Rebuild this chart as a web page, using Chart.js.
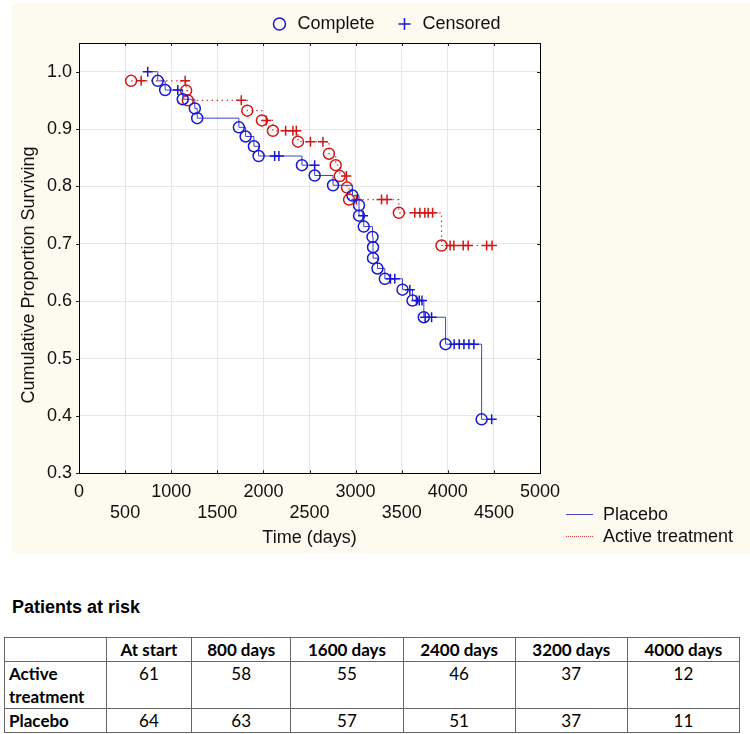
<!DOCTYPE html>
<html>
<head>
<meta charset="utf-8">
<script src="https://cdn.jsdelivr.net/npm/chart.js@4.4.1/dist/chart.umd.min.js"></script>
<style>
  html, body { margin:0; padding:0; background:#fff; }
  body { width:750px; height:734px; position:relative; overflow:hidden; font-family:'Liberation Sans', Arial, sans-serif; }
  #panel { position:absolute; left:12px; top:3px; width:738px; height:550px; background:#fdfbf0; }
  #c { position:absolute; left:0; top:0; }
  #ytitle { position:absolute; left:-184px; top:261px; width:400px; height:22px; line-height:22px; text-align:center; font-size:18px; color:#111; transform:rotate(-90deg); }
  .lg { position:absolute; left:554px; height:22px; line-height:22px; font-size:18px; color:#111; white-space:nowrap; }
  .lg .sw { display:inline-block; width:27px; height:0; vertical-align:middle; margin-right:10px; position:relative; top:-1px; }
  #riskTitle { position:absolute; left:12px; top:597px; font-size:18px; font-weight:bold; color:#000; }
  #risk { position:absolute; left:4px; top:637px; width:736px; border-collapse:collapse; font-family:Lato, 'Noto Sans', sans-serif; font-size:17px; color:#000; }
  #risk td, #risk th { border:1px solid #666; padding:0 4px; line-height:23px; vertical-align:top; }
  #risk th { font-weight:bold; text-align:center; }
  #risk td { text-align:center; }
  #risk td.rowh { text-align:left; font-weight:bold; width:93px; }
</style>
</head>
<body>
<div id="panel">
  <canvas id="c" width="738" height="550"></canvas>
  <div id="ytitle">Cumulative Proportion Surviving</div>
  <div class="lg" style="top:500px;"><span class="sw" style="border-top:1px solid #4848c8;"></span>Placebo</div>
  <div class="lg" style="top:522px;"><span class="sw" style="border-top:1px dotted #d04040;"></span>Active treatment</div>
</div>
<div id="riskTitle">Patients at risk</div>
<table id="risk"></table>
<script>
// ---- data ----
const placeboDays  = [745, 854, 934, 1071, 1125, 1256, 1282, 1734, 1807, 1897, 1948, 2122, 2168, 2418, 2556, 2556, 2755, 2966, 3037, 3037, 3081, 3088, 3183, 3189, 3189, 3237, 3317, 3378, 3425, 3509, 3588, 3617, 3660, 3690, 3720, 3740, 3754, 3824, 3976, 4069, 4124, 4175, 4229, 4283, 4367, 4476];
const placeboSurv  = [1.000, 0.984, 0.968, 0.968, 0.952, 0.936, 0.919, 0.903, 0.887, 0.870, 0.853, 0.853, 0.853, 0.837, 0.837, 0.819, 0.802, 0.784, 0.767, 0.749, 0.749, 0.730, 0.712, 0.694, 0.675, 0.657, 0.639, 0.639, 0.639, 0.620, 0.620, 0.601, 0.601, 0.601, 0.601, 0.572, 0.572, 0.572, 0.525, 0.525, 0.525, 0.525, 0.525, 0.525, 0.394, 0.394];
const placeboEvent = [0, 1, 1, 0, 1, 1, 1, 1, 1, 1, 1, 0, 0, 1, 0, 1, 1, 1, 1, 1, 0, 1, 1, 1, 1, 1, 1, 0, 0, 1, 0, 1, 0, 0, 0, 1, 0, 0, 1, 0, 0, 0, 0, 0, 1, 0];

const activeDays  = [565, 674, 1151, 1162, 1180, 1760, 1825, 1984, 2031, 2103, 2241, 2320, 2357, 2375, 2510, 2646, 2711, 2784, 2828, 2900, 2907, 2929, 3009, 3281, 3341, 3469, 3642, 3697, 3751, 3787, 3835, 3932, 4025, 4066, 4167, 4221, 4421, 4480];
const activeSurv  = [0.984, 0.984, 0.984, 0.967, 0.950, 0.950, 0.932, 0.915, 0.915, 0.897, 0.897, 0.897, 0.897, 0.878, 0.878, 0.878, 0.857, 0.837, 0.818, 0.818, 0.798, 0.777, 0.777, 0.777, 0.777, 0.754, 0.754, 0.754, 0.754, 0.754, 0.754, 0.697, 0.697, 0.697, 0.697, 0.697, 0.697, 0.697];
const activeEvent = [1, 0, 0, 1, 1, 0, 1, 1, 0, 1, 0, 0, 0, 1, 0, 0, 1, 1, 1, 0, 1, 1, 0, 0, 0, 1, 0, 0, 0, 0, 0, 1, 0, 0, 0, 0, 0, 0];

const xTicks = [0, 500, 1000, 1500, 2000, 2500, 3000, 3500, 4000, 4500, 5000];
const yTicks = [0.3, 0.4, 0.5, 0.6, 0.7, 0.8, 0.9, 1.0];

const riskColumns  = ['At start', '800 days', '1600 days', '2400 days', '3200 days', '4000 days'];
const riskRows     = ['Active<br>treatment', 'Placebo'];
const activeAtRisk = [61, 58, 55, 46, 37, 12];
const placeboAtRisk = [64, 63, 57, 51, 37, 11];

// ---- table ----
(function(){
  const t = document.getElementById('risk');
  let h = '<tr><th style="width:93px"></th>' + riskColumns.map(c => '<th>' + c + '</th>').join('') + '</tr>';
  [activeAtRisk, placeboAtRisk].forEach((vals, r) => {
    h += '<tr><td class="rowh">' + riskRows[r] + '</td>' + vals.map(v => '<td>' + v + '</td>').join('') + '</tr>';
  });
  t.innerHTML = h;
})();

// ---- chart ----
const BLUE = '#1818d0', BLUE_LINE = '#4040cc', RED = '#d01818', RED_LINE = '#d03a3a';
Chart.defaults.font.family = "'Liberation Sans', Arial, sans-serif";
Chart.defaults.color = '#111';

const toPts = (xs, ys) => xs.map((x, i) => ({ x: x, y: ys[i] }));

const framePlugin = {
  id: 'frame',
  afterLayout(chart) {
    // centre the marker legend on the whole figure panel, as in the reference
    const lg = chart.legend;
    if (lg) { lg.left = 9; lg.right = chart.width; lg.width = lg.right - lg.left; }
  },
  beforeDraw(chart) {
    const a = chart.chartArea, c = chart.ctx;
    c.save(); c.fillStyle = '#ffffff'; c.fillRect(a.left, a.top, a.right - a.left, a.bottom - a.top); c.restore();
  },
  beforeDatasetsDraw(chart) {
    const a = chart.chartArea, c = chart.ctx;
    const xs = chart.scales.x, ys = chart.scales.y;
    c.save();
    c.strokeStyle = '#222'; c.lineWidth = 1;
    c.beginPath();
    xs.ticks.forEach(t => {
      const px = Math.round(xs.getPixelForValue(t.value)) + 0.5;
      c.moveTo(px, a.top); c.lineTo(px, a.top + 3);
      c.moveTo(px, a.bottom); c.lineTo(px, a.bottom - 3);
    });
    ys.ticks.forEach(t => {
      const py = Math.round(ys.getPixelForValue(t.value)) + 0.5;
      c.moveTo(a.right, py); c.lineTo(a.right - 3, py);
      c.moveTo(a.left, py); c.lineTo(a.left - 3, py);
    });
    c.stroke();
    c.strokeStyle = '#000';
    c.strokeRect(Math.round(a.left) + 0.5, Math.round(a.top) + 0.5, Math.round(a.right - a.left), Math.round(a.bottom - a.top));
    c.restore();
  }
};

new Chart(document.getElementById('c'), {
  type: 'line',
  data: {
    datasets: [
      {
        label: 'Placebo',
        data: toPts(placeboDays, placeboSurv),
        stepped: 'before',
        borderColor: BLUE_LINE,
        borderWidth: 1,
        fill: false,
        pointStyle: ctx => placeboEvent[ctx.dataIndex] ? 'circle' : 'cross',
        pointRadius: ctx => placeboEvent[ctx.dataIndex] ? 5.5 : 5,
        pointBorderColor: BLUE,
        pointBackgroundColor: 'rgba(0,0,0,0)',
        pointBorderWidth: 1.5
      },
      {
        label: 'Active treatment',
        data: toPts(activeDays, activeSurv),
        stepped: 'before',
        borderColor: RED_LINE,
        borderWidth: 1.2,
        borderDash: [1.5, 3.5],
        fill: false,
        pointStyle: ctx => activeEvent[ctx.dataIndex] ? 'circle' : 'cross',
        pointRadius: ctx => activeEvent[ctx.dataIndex] ? 5.5 : 5,
        pointBorderColor: RED,
        pointBackgroundColor: 'rgba(0,0,0,0)',
        pointBorderWidth: 1.5
      }
    ]
  },
  options: {
    responsive: false,
    animation: false,
    devicePixelRatio: 1,
    layout: { padding: { top: 1, left: 28, right: 210, bottom: 4 } },
    plugins: {
      tooltip: { enabled: false },
      legend: {
        display: true,
        position: 'top',
        onClick: null,
        labels: {
          usePointStyle: true,
          boxWidth: 18,
          boxHeight: 8.5,
          padding: 11,
          color: '#111',
          font: { size: 18 },
          generateLabels: () => [
            { text: 'Complete  ', pointStyle: 'circle', fillStyle: 'rgba(0,0,0,0)', strokeStyle: BLUE, lineWidth: 1.5, fontColor: '#111', hidden: false },
            { text: 'Censored', pointStyle: 'cross', fillStyle: 'rgba(0,0,0,0)', strokeStyle: BLUE, lineWidth: 1.5, fontColor: '#111', hidden: false }
          ]
        }
      }
    },
    scales: {
      x: {
        type: 'linear',
        min: 0, max: 5000,
        afterBuildTicks: s => { s.ticks = xTicks.map(v => ({ value: v })); },
        grid: { color: '#e6e6e6', drawTicks: false },
        border: { color: '#000', width: 1 },
        ticks: {
          autoSkip: false, maxRotation: 0, padding: 8,
          color: '#111',
          font: { size: 18, lineHeight: 1.17 },
          callback: v => (v % 1000 === 0) ? [String(v), ''] : ['', String(v)]
        },
        title: { display: true, text: 'Time (days)', color: '#111', font: { size: 18 }, padding: { top: -4, bottom: 0 } }
      },
      y: {
        type: 'linear',
        min: 0.3, max: 1.05,
        afterBuildTicks: s => { s.ticks = yTicks.map(v => ({ value: v })); },
        grid: { color: '#e6e6e6', drawTicks: false },
        border: { color: '#000', width: 1 },
        ticks: { padding: 7, color: '#111', font: { size: 18 }, callback: v => Number(v).toFixed(1) }
      }
    }
  },
  plugins: [framePlugin]
});
</script>
</body>
</html>
